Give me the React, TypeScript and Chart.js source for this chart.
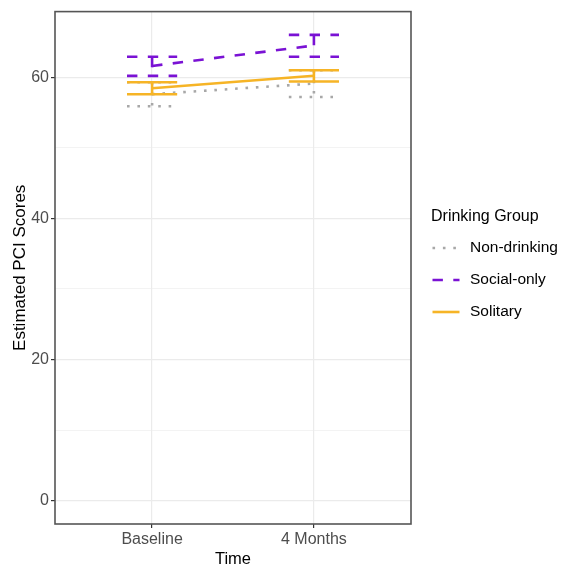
import React, { useEffect, useRef } from "react";
import { Chart, registerables } from "chart.js";

Chart.register(...registerables);

// Time points on the x axis
const TIME_LABELS = ["Baseline", "4 Months"];

// Drinking groups, their colours and line types
const GROUPS = ["Non-drinking", "Social-only", "Solitary"];
const GROUP_COLORS = ["#A8A8A8", "#7A12D4", "#F6B426"];

// Estimated PCI scores with confidence limits, one value per time point
const NON_DRINKING_MEAN = [57.6, 59.1];
const NON_DRINKING_LOW = [55.9, 57.2];
const NON_DRINKING_HIGH = [59.3, 61.0];

const SOCIAL_MEAN = [61.6, 64.5];
const SOCIAL_LOW = [60.2, 62.9];
const SOCIAL_HIGH = [62.9, 66.0];

const SOLITARY_MEAN = [58.45, 60.2];
const SOLITARY_LOW = [57.6, 59.4];
const SOLITARY_HIGH = [59.3, 61.0];

const Y_TICKS = [0, 20, 40, 60];
const Y_GRID = [0, 10, 20, 30, 40, 50, 60];

const LINE_W = 2.6;
const DASHES: number[][] = [
  [LINE_W, LINE_W * 3], // dotted
  [LINE_W * 4, LINE_W * 4], // dashed
  [], // solid
];
const CAP_HALF = 0.155; // half the error-bar cap width, in category units
const FONT = '"Liberation Sans", Arial, sans-serif';

const MEANS = [NON_DRINKING_MEAN, SOCIAL_MEAN, SOLITARY_MEAN];
const LOWS = [NON_DRINKING_LOW, SOCIAL_LOW, SOLITARY_LOW];
const HIGHS = [NON_DRINKING_HIGH, SOCIAL_HIGH, SOLITARY_HIGH];

// Three separate strokes per error bar: upper cap, stem, lower cap
function errorBarPoints(low: number[], high: number[]) {
  const pts: { x: number; y: number | null }[] = [];
  low.forEach((lo, i) => {
    const x = i + 1;
    const hi = high[i];
    pts.push({ x: x - CAP_HALF, y: hi }, { x: x + CAP_HALF, y: hi }, { x, y: null });
    pts.push({ x, y: hi }, { x, y: lo }, { x, y: null });
    pts.push({ x: x - CAP_HALF, y: lo }, { x: x + CAP_HALF, y: lo }, { x, y: null });
  });
  return pts;
}

const yLow = 0;
const yHigh = Math.max(...HIGHS.flat());
const yPad = (yHigh - yLow) * 0.05;

const legendPlugin = {
  id: "groupLegend",
  afterDraw(chart: any) {
    const ctx = chart.ctx;
    ctx.save();
    ctx.fillStyle = "#000";
    ctx.textBaseline = "middle";
    ctx.textAlign = "left";
    ctx.font = `16px ${FONT}`;
    ctx.fillText("Drinking Group", 431, 217);
    GROUPS.forEach((g, i) => {
      const ds = chart.data.datasets[i];
      const y = 248 + i * 32;
      ctx.strokeStyle = ds.borderColor;
      ctx.lineWidth = ds.borderWidth;
      ctx.setLineDash(ds.borderDash || []);
      ctx.beginPath();
      ctx.moveTo(432.5, y);
      ctx.lineTo(459.5, y);
      ctx.stroke();
      ctx.setLineDash([]);
      ctx.font = `15.5px ${FONT}`;
      ctx.fillText(g, 470, y);
    });
    ctx.restore();
  },
};

const panelBorder = {
  id: "panelBorder",
  afterDraw(chart: any) {
    const { ctx, chartArea } = chart;
    ctx.save();
    ctx.strokeStyle = "#555555";
    ctx.lineWidth = 1.6;
    ctx.strokeRect(
      chartArea.left,
      chartArea.top,
      chartArea.right - chartArea.left,
      chartArea.bottom - chartArea.top
    );
    ctx.restore();
  },
};

export default function App() {
  const canvasRef = useRef<HTMLCanvasElement | null>(null);

  useEffect(() => {
    if (!canvasRef.current) return;

    const lineSets = GROUPS.map((g, i) => ({
      label: g,
      data: MEANS[i].map((y, t) => ({ x: t + 1, y })),
      borderColor: GROUP_COLORS[i],
      borderWidth: LINE_W,
      borderDash: DASHES[i],
      pointRadius: 0,
      fill: false,
      tension: 0,
      order: 12 - i,
    }));
    const barSets = GROUPS.map((g, i) => ({
      label: g + " CI",
      data: errorBarPoints(LOWS[i], HIGHS[i]),
      borderColor: GROUP_COLORS[i],
      borderWidth: LINE_W,
      borderDash: DASHES[i],
      pointRadius: 0,
      fill: false,
      spanGaps: false,
      tension: 0,
      order: 2 - i,
    }));

    const chart = new Chart(canvasRef.current, {
      type: "line",
      data: { datasets: [...lineSets, ...barSets] as any },
      plugins: [legendPlugin, panelBorder],
      options: {
        animation: false,
        responsive: false,
        devicePixelRatio: 1,
        layout: { padding: { left: 0, top: 8, right: 155, bottom: 0 } },
        plugins: { legend: { display: false }, tooltip: { enabled: false } },
        scales: {
          x: {
            type: "linear",
            min: 0.4,
            max: 2.6,
            afterBuildTicks: (scale: any) => {
              scale.ticks = TIME_LABELS.map((_, i) => ({ value: i + 1 }));
            },
            afterFit: (scale: any) => {
              scale.height = 47;
            },
            ticks: {
              callback: (v: any) => TIME_LABELS[Number(v) - 1] ?? "",
              color: "#4D4D4D",
              font: { family: FONT, size: 16 },
              padding: 2,
              autoSkip: false,
              maxRotation: 0,
            },
            grid: {
              color: "#EBEBEB",
              lineWidth: 1.2,
              tickLength: 4,
              tickColor: "#333333",
              tickWidth: 1.2,
            },
            border: { display: false },
            title: {
              display: true,
              text: "Time",
              color: "#000",
              font: { family: FONT, size: 16.5 },
              padding: { top: 0, bottom: 2 },
            },
          },
          y: {
            type: "linear",
            min: yLow - yPad,
            max: yHigh + yPad,
            afterBuildTicks: (scale: any) => {
              scale.ticks = Y_GRID.map((v) => ({ value: v }));
            },
            afterFit: (scale: any) => {
              scale.width = 55;
            },
            ticks: {
              callback: (v: any) => (Y_TICKS.includes(Number(v)) ? String(v) : ""),
              color: "#4D4D4D",
              font: { family: FONT, size: 16 },
              padding: 2,
            },
            grid: {
              color: "#EBEBEB",
              lineWidth: (c: any) => (c.tick && Y_TICKS.includes(c.tick.value) ? 1.2 : 0.6),
              tickLength: 4,
              tickColor: (c: any) =>
                c.tick && Y_TICKS.includes(c.tick.value) ? "#333333" : "rgba(0,0,0,0)",
              tickWidth: 1.2,
            },
            border: { display: false },
            title: {
              display: true,
              text: "Estimated PCI Scores",
              color: "#000",
              font: { family: FONT, size: 17 },
              padding: { top: 10, bottom: 0 },
            },
          },
        },
      },
    });

    return () => chart.destroy();
  }, []);

  return (
    <div style={{ position: "absolute", left: 0, top: 0, width: 566, height: 571, background: "#fff" }}>
      <canvas ref={canvasRef} width={566} height={571} />
    </div>
  );
}
